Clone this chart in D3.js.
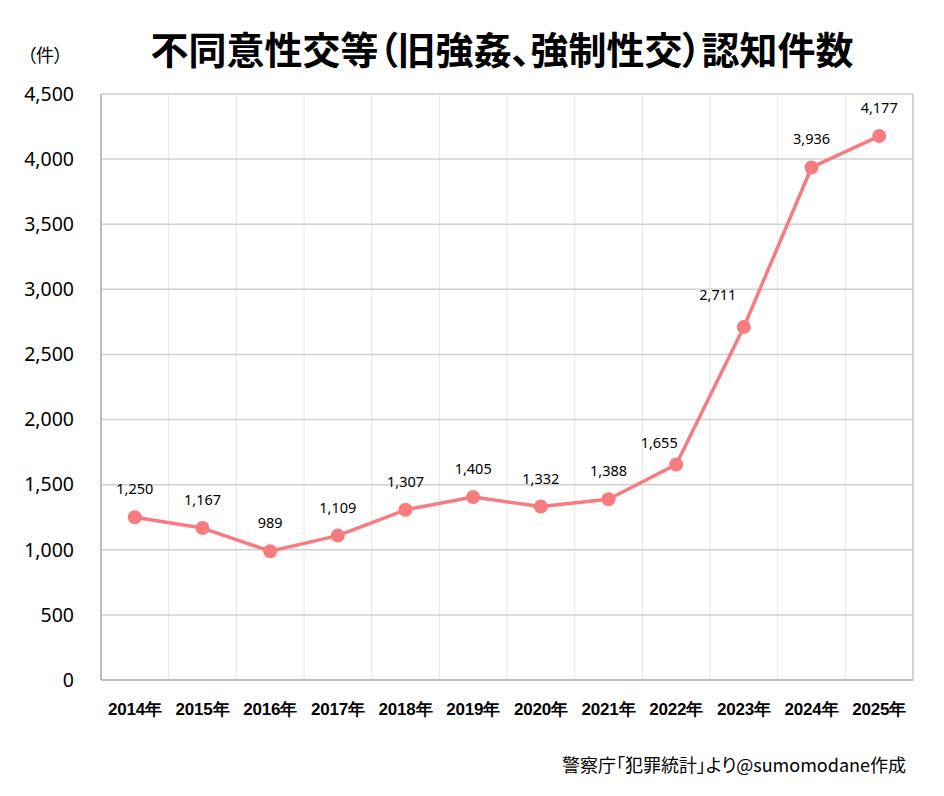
<!DOCTYPE html>
<html>
<head>
<meta charset="utf-8">
<script src="https://cdn.jsdelivr.net/npm/d3@7"></script>
<style>
body { margin: 0; background: #fff; }
svg { display: block; font-family: "Noto Sans CJK JP", "Noto Sans", sans-serif; }
.palt { font-feature-settings: "palt"; }
</style>
</head>
<body>
<svg id="chart" width="944" height="796"></svg>
<script>
// data
var years = ["2014年","2015年","2016年","2017年","2018年","2019年","2020年","2021年","2022年","2023年","2024年","2025年"];
var counts = [1250, 1167, 989, 1109, 1307, 1405, 1332, 1388, 1655, 2711, 3936, 4177];
var yTicks = [0, 500, 1000, 1500, 2000, 2500, 3000, 3500, 4000, 4500];

var width = 944, height = 796;
var margin = {top: 94, right: 31, bottom: 116, left: 101};
var svg = d3.select("#chart");

var x = d3.scaleBand().domain(years).range([margin.left, width - margin.right]);
var y = d3.scaleLinear().domain([0, 4500]).range([height - margin.bottom, margin.top]);

// vertical grid (band edges)
svg.append("g").selectAll("line").data(years.slice(1)).join("line")
	.attr("x1", function(d) { return x(d); })
	.attr("x2", function(d) { return x(d); })
	.attr("y1", y(4500)).attr("y2", y(0))
	.attr("stroke", "#e6e6e6").attr("stroke-width", 1);

// horizontal grid
svg.append("g").selectAll("line").data(yTicks.slice(1)).join("line")
	.attr("x1", margin.left).attr("x2", width - margin.right)
	.attr("y1", function(d) { return y(d); })
	.attr("y2", function(d) { return y(d); })
	.attr("stroke", "#d0d0d0").attr("stroke-width", 1.5);

// frame
svg.append("line").attr("x1", width - margin.right).attr("x2", width - margin.right)
	.attr("y1", y(4500)).attr("y2", y(0)).attr("stroke", "#c4c4c4").attr("stroke-width", 1.5);
svg.append("line").attr("x1", margin.left).attr("x2", margin.left)
	.attr("y1", y(4500)).attr("y2", y(0)).attr("stroke", "#bdbdbd").attr("stroke-width", 2);
svg.append("line").attr("x1", margin.left).attr("x2", width - margin.right)
	.attr("y1", y(0)).attr("y2", y(0)).attr("stroke", "#bdbdbd").attr("stroke-width", 2);

// y axis
var yAxis = svg.append("g")
	.attr("transform", "translate(" + margin.left + ",0)")
	.call(d3.axisLeft(y).tickValues(yTicks).tickSize(0).tickPadding(27).tickFormat(d3.format(",")));
yAxis.select(".domain").remove();
yAxis.selectAll("text")
	.attr("font-size", 19.5).attr("fill", "#000")
	.attr("font-family", "'Noto Sans', 'Noto Sans CJK JP', sans-serif");

// x axis
var xAxis = svg.append("g")
	.attr("transform", "translate(0," + y(0) + ")")
	.call(d3.axisBottom(x).tickSize(0).tickPadding(23));
xAxis.select(".domain").remove();
xAxis.selectAll("text")
	.attr("font-size", 17).attr("font-weight", "bold").attr("fill", "#000")
	.attr("letter-spacing", -0.2);

// line + points
var cx = function(d, i) { return x(years[i]) + x.bandwidth() / 2; };
var line = d3.line().x(cx).y(function(d) { return y(d); });
svg.append("path").datum(counts)
	.attr("fill", "none").attr("stroke", "#f77c80").attr("stroke-width", 3.5)
	.attr("stroke-linejoin", "round")
	.attr("d", line);
svg.append("g").selectAll("circle").data(counts).join("circle")
	.attr("cx", cx).attr("cy", function(d) { return y(d); })
	.attr("r", 7).attr("fill", "#f77c80");

// value labels (a few are nudged left of the steep segment)
var nudge = {8: [-17, -16], 9: [-26, -27]};
svg.append("g").selectAll("text").data(counts).join("text")
	.attr("x", function(d, i) { return cx(d, i) + (nudge[i] ? nudge[i][0] : 0); })
	.attr("y", function(d, i) { return y(d) + (nudge[i] ? nudge[i][1] : -23); })
	.attr("text-anchor", "middle")
	.attr("font-size", 14.5).attr("fill", "#000")
	.attr("font-family", "'Noto Sans', sans-serif")
	.text(function(d) { return d3.format(",")(d); });

// titles
svg.append("text").attr("class", "palt").attr("x", 502).attr("y", 64).attr("text-anchor", "middle")
	.attr("font-size", 38).attr("font-weight", "bold").attr("fill", "#000")
	.text("不同意性交等（旧強姦、強制性交）認知件数");
svg.append("text").attr("class", "palt").attr("x", 45).attr("y", 62).attr("text-anchor", "middle")
	.attr("font-size", 18).attr("fill", "#000")
	.text("（件）");
svg.append("text").attr("class", "palt").attr("x", 906).attr("y", 772).attr("text-anchor", "end")
	.attr("font-size", 18).attr("fill", "#000")
	.text("警察庁「犯罪統計」より@sumomodane作成");
</script>
</body>
</html>
